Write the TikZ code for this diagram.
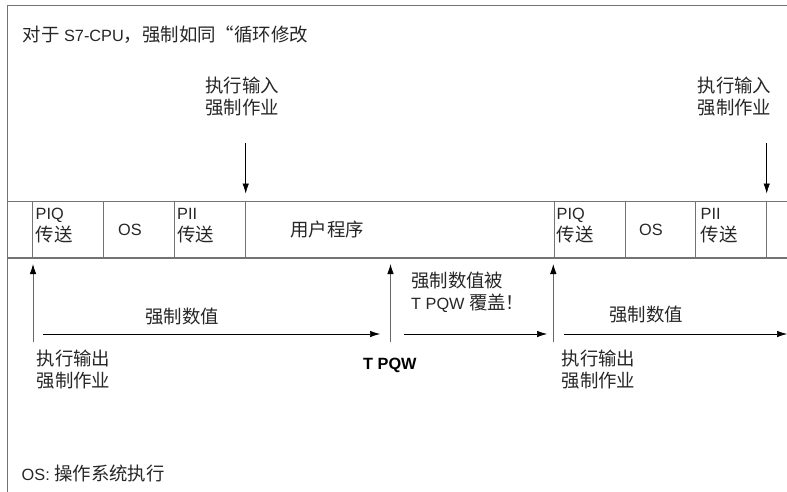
\documentclass[tikz,border=0pt]{standalone}
\usepackage{fontspec}
\setmainfont{Liberation Sans}
\newfontfamily\cjk{Noto Sans CJK SC}[Scale=1.13]
\usetikzlibrary{arrows.meta}
\tikzset{
  frameline/.style={draw=black!55, line width=1.1pt},
  bandline/.style={draw=black!55, line width=1.1pt},
  arr/.style={draw=black, line width=0.6pt, -{Latex[length=10pt,width=6.5pt]}},
  varr/.style={draw=black!60, line width=0.8pt, -{Latex[length=10pt,width=6.5pt,color=black]}},
  txt/.style={inner sep=0pt, anchor=west, align=left, text=black!85,
    font=\fontsize{16.3}{22}\selectfont},
}
\begin{document}
\begin{tikzpicture}[x=1pt,y=-1pt]
\useasboundingbox (0,0) rectangle (787,492);
% frame
\draw[frameline] (7.3,492) -- (7.3,5.7) -- (787,5.7);
% band
\draw[bandline] (7.3,201.7) -- (787,201.7);
\draw[bandline] (7.3,258) -- (787,258);
\foreach \x in {32.3,103.3,174.3,245.7,554,625,695.7,766.7}
  \draw[bandline, line width=0.8pt] (\x,201.7) -- (\x,258);
% texts
\node[txt] (title) at (22.5,35) {{\cjk 对于} S7-CPU{\cjk ，强制如同“循环修改}};
\node[txt] (in1) at (205,97) {\cjk 执行输入\\\cjk 强制作业};
\node[txt] (in2) at (697.5,97) {\cjk 执行输入\\\cjk 强制作业};
\node[txt] (piq1) at (35.5,225.5) {PIQ\\\cjk 传送};
\node[txt, anchor=center] (os1) at (130,230) {OS};
\node[txt] (pii1) at (177,225.5) {PII\\\cjk 传送};
\node[txt, anchor=center] (user) at (327,230) {\cjk 用户程序};
\node[txt] (piq2) at (556.5,225.5) {PIQ\\\cjk 传送};
\node[txt, anchor=center] (os2) at (651,230) {OS};
\node[txt] (pii2) at (700.5,225.5) {PII\\\cjk 传送};
\node[txt] (over) at (411,292) {\cjk 强制数值被\\T PQW {\cjk 覆盖！}};
\node[txt, anchor=center] (fv1) at (182,316.5) {\cjk 强制数值};
\node[txt, anchor=center] (fv2) at (646,315) {\cjk 强制数值};
\node[txt] (out1) at (36.5,370) {\cjk 执行输出\\\cjk 强制作业};
\node[txt] (out2) at (561.5,370) {\cjk 执行输出\\\cjk 强制作业};
\node[txt, text=black, font=\fontsize{16.3}{22}\selectfont\bfseries] (tpqw) at (363,365) {T PQW};
\node[txt] (osnote) at (21.5,473) {OS: {\cjk 操作系统执行}};
% down arrows
\coordinate (d1a) at (245.7,143); \coordinate (d1b) at (245.7,193.5);
\coordinate (d2a) at (766.7,143); \coordinate (d2b) at (766.7,193.5);
\draw[arr] (d1a) -- (d1b);
\draw[arr] (d2a) -- (d2b);
% up arrows
\coordinate (u1a) at (33,342); \coordinate (u1b) at (33,264);
\coordinate (u2a) at (390.5,342); \coordinate (u2b) at (390.5,264);
\coordinate (u3a) at (553.3,342); \coordinate (u3b) at (553.3,264);
\draw[varr] (u1a) -- (u1b);
\draw[varr] (u2a) -- (u2b);
\draw[varr] (u3a) -- (u3b);
% horizontal arrows
\coordinate (h1a) at (43,334); \coordinate (h1b) at (380,334);
\coordinate (h2a) at (404,334); \coordinate (h2b) at (547,334);
\coordinate (h3a) at (564,334); \coordinate (h3b) at (787,334);
\draw[arr] (h1a) -- (h1b);
\draw[arr] (h2a) -- (h2b);
\draw[arr] (h3a) -- (h3b);
\end{tikzpicture}
\end{document}
